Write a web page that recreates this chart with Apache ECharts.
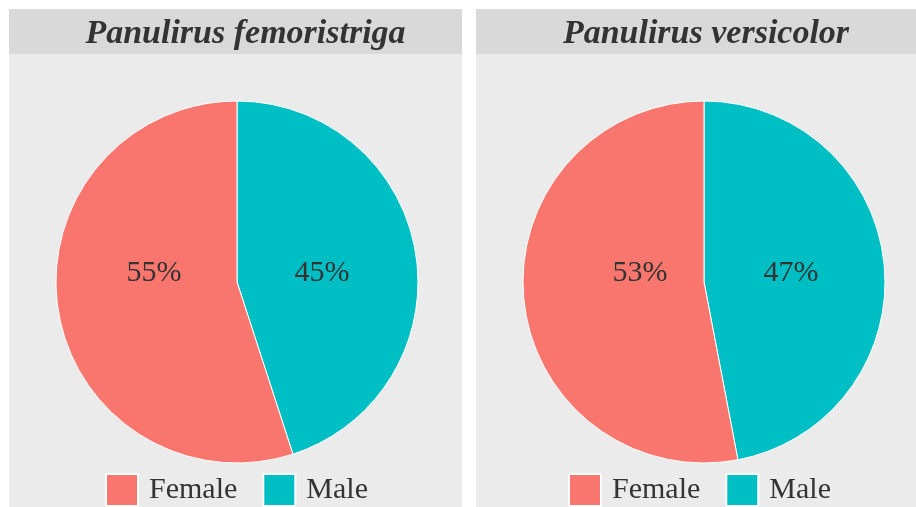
<!DOCTYPE html>
<html>
<head>
<meta charset="utf-8">
<script src="https://cdn.jsdelivr.net/npm/echarts@6/dist/echarts.min.js"></script>
<style>
  html, body { margin: 0; padding: 0; background: #ffffff; }
  #container { width: 916px; height: 507px; }
</style>
</head>
<body>
<div id="container"></div>
<script>
// data
var species = ['Panulirus femoristriga', 'Panulirus versicolor'];
var sexes = ['Female', 'Male'];
var femalePct = [55, 53];
var malePct = [45, 47];

var colors = { Female: '#F8766D', Male: '#00BFC4' };
var font = '"Liberation Serif", "Times New Roman", serif';

// panel layout (facets)
var panels = [
  { x: 9, w: 453, cx: 237, legendLeft: 105, dx: { Female: -83, Male: 85 } },
  { x: 476, w: 440, cx: 704, legendLeft: 568, dx: { Female: -64, Male: 87 } }
];
var panelTop = 9, stripH = 45, cy = 282, radius = 181;

var chart = echarts.init(document.getElementById('container'));

var graphics = [], titles = [], legends = [], series = [];
panels.forEach(function (p, i) {
  graphics.push({ type: 'rect', silent: true, z: -10,
    shape: { x: p.x, y: panelTop, width: p.w, height: 507 - panelTop },
    style: { fill: '#EBEBEB' } });
  graphics.push({ type: 'rect', silent: true, z: -9,
    shape: { x: p.x, y: panelTop, width: p.w, height: stripH },
    style: { fill: '#D9D9D9' } });

  titles.push({
    text: species[i],
    left: p.x + p.w / 2 + 5,
    top: 12,
    textAlign: 'center',
    textStyle: { fontFamily: font, fontSize: 34, fontWeight: 'bold', fontStyle: 'italic', color: '#333333' }
  });

  legends.push({
    data: sexes,
    left: p.legendLeft,
    top: 473,
    padding: 0,
    orient: 'horizontal',
    itemWidth: 32,
    itemHeight: 32,
    itemGap: 25,
    icon: 'rect',
    selectedMode: false,
    textStyle: { fontFamily: font, fontSize: 30, color: '#333333', padding: [0, 0, 0, 6] }
  });

  // Male drawn first from 12 o'clock clockwise, then Female
  var vals = { Female: femalePct[i], Male: malePct[i] };
  series.push({
    type: 'pie',
    center: [p.cx, cy],
    radius: radius,
    startAngle: 90,
    clockwise: true,
    animation: false,
    silent: true,
    itemStyle: { borderColor: '#ffffff', borderWidth: 1 },
    label: {
      position: 'inside',
      formatter: '{c}%',
      fontFamily: font,
      fontSize: 30,
      color: '#333333'
    },
    labelLine: { show: false },
    labelLayout: function (params) {
      var name = sexes[params.dataIndex === 0 ? 1 : 0];
      return { x: p.cx + p.dx[name], y: cy - 9, align: 'center', verticalAlign: 'middle' };
    },
    data: ['Male', 'Female'].map(function (s) {
      return { name: s, value: vals[s], itemStyle: { color: colors[s] } };
    })
  });
});

var option = {
  backgroundColor: '#ffffff',
  title: titles,
  legend: legends,
  graphic: graphics,
  series: series
};
chart.setOption(option);
</script>
</body>
</html>
